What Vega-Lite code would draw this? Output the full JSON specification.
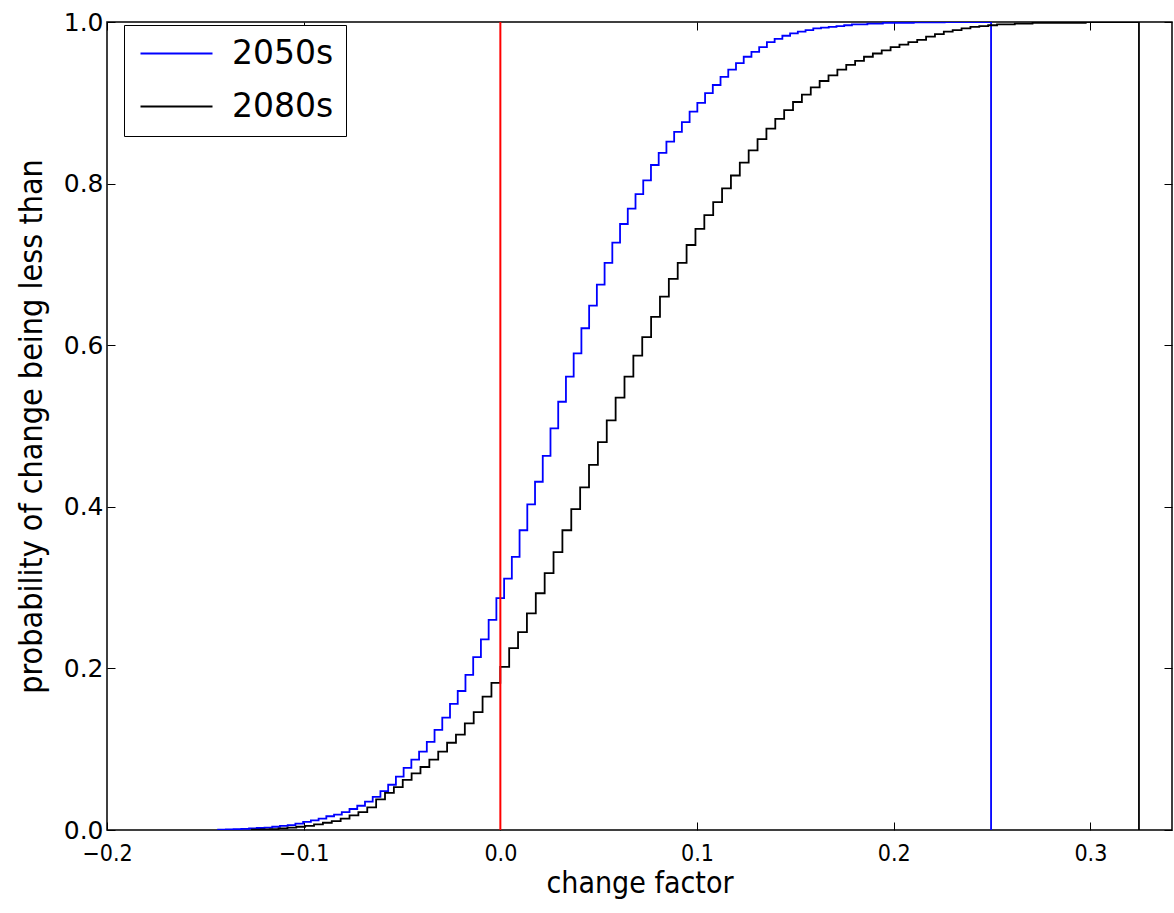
{
  "$schema": "https://vega.github.io/schema/vega-lite/v6.json",
  "width": 1065,
  "height": 808,
  "autosize": {"type": "none"},
  "padding": {"left": 107, "top": 22, "right": 2, "bottom": 83},
  "background": "white",
  "config": {
    "view": {"stroke": "black", "strokeWidth": 1.5},
    "axis": {"grid": false, "domain": false, "tickColor": "black", "tickWidth": 1, "labelColor": "black", "titleColor": "black", "titleFontWeight": "normal"}
  },
  "layer": [
    {
      "data": {"values": [
        {"s":"2050s","o":0,"x":-0.1435,"p":0},
        {"s":"2050s","o":1,"x":-0.1435,"p":0.0003},
        {"s":"2050s","o":2,"x":-0.13957,"p":0.0006},
        {"s":"2050s","o":3,"x":-0.13564,"p":0.001},
        {"s":"2050s","o":4,"x":-0.13171,"p":0.0015},
        {"s":"2050s","o":5,"x":-0.12778,"p":0.002},
        {"s":"2050s","o":6,"x":-0.12385,"p":0.0025},
        {"s":"2050s","o":7,"x":-0.11992,"p":0.003},
        {"s":"2050s","o":8,"x":-0.11599,"p":0.004},
        {"s":"2050s","o":9,"x":-0.11206,"p":0.005},
        {"s":"2050s","o":10,"x":-0.10813,"p":0.006},
        {"s":"2050s","o":11,"x":-0.1042,"p":0.008},
        {"s":"2050s","o":12,"x":-0.10027,"p":0.010},
        {"s":"2050s","o":13,"x":-0.09634,"p":0.012},
        {"s":"2050s","o":14,"x":-0.09241,"p":0.014},
        {"s":"2050s","o":15,"x":-0.08848,"p":0.017},
        {"s":"2050s","o":16,"x":-0.08455,"p":0.019},
        {"s":"2050s","o":17,"x":-0.08062,"p":0.022},
        {"s":"2050s","o":18,"x":-0.07669,"p":0.026},
        {"s":"2050s","o":19,"x":-0.07276,"p":0.030},
        {"s":"2050s","o":20,"x":-0.06883,"p":0.035},
        {"s":"2050s","o":21,"x":-0.0649,"p":0.041},
        {"s":"2050s","o":22,"x":-0.06097,"p":0.048},
        {"s":"2050s","o":23,"x":-0.05704,"p":0.056},
        {"s":"2050s","o":24,"x":-0.05311,"p":0.066},
        {"s":"2050s","o":25,"x":-0.04918,"p":0.077},
        {"s":"2050s","o":26,"x":-0.04525,"p":0.087},
        {"s":"2050s","o":27,"x":-0.04132,"p":0.097},
        {"s":"2050s","o":28,"x":-0.03739,"p":0.109},
        {"s":"2050s","o":29,"x":-0.03346,"p":0.124},
        {"s":"2050s","o":30,"x":-0.02953,"p":0.139},
        {"s":"2050s","o":31,"x":-0.0256,"p":0.156},
        {"s":"2050s","o":32,"x":-0.02167,"p":0.172},
        {"s":"2050s","o":33,"x":-0.01774,"p":0.192},
        {"s":"2050s","o":34,"x":-0.01381,"p":0.214},
        {"s":"2050s","o":35,"x":-0.00988,"p":0.236},
        {"s":"2050s","o":36,"x":-0.00595,"p":0.260},
        {"s":"2050s","o":37,"x":-0.00202,"p":0.287},
        {"s":"2050s","o":38,"x":0.00191,"p":0.311},
        {"s":"2050s","o":39,"x":0.00584,"p":0.338},
        {"s":"2050s","o":40,"x":0.00977,"p":0.371},
        {"s":"2050s","o":41,"x":0.0137,"p":0.403},
        {"s":"2050s","o":42,"x":0.01763,"p":0.431},
        {"s":"2050s","o":43,"x":0.02156,"p":0.463},
        {"s":"2050s","o":44,"x":0.02549,"p":0.497},
        {"s":"2050s","o":45,"x":0.02942,"p":0.530},
        {"s":"2050s","o":46,"x":0.03335,"p":0.561},
        {"s":"2050s","o":47,"x":0.03728,"p":0.590},
        {"s":"2050s","o":48,"x":0.04121,"p":0.621},
        {"s":"2050s","o":49,"x":0.04514,"p":0.649},
        {"s":"2050s","o":50,"x":0.04907,"p":0.675},
        {"s":"2050s","o":51,"x":0.053,"p":0.702},
        {"s":"2050s","o":52,"x":0.05693,"p":0.727},
        {"s":"2050s","o":53,"x":0.06086,"p":0.750},
        {"s":"2050s","o":54,"x":0.06479,"p":0.769},
        {"s":"2050s","o":55,"x":0.06872,"p":0.787},
        {"s":"2050s","o":56,"x":0.07265,"p":0.804},
        {"s":"2050s","o":57,"x":0.07658,"p":0.823},
        {"s":"2050s","o":58,"x":0.08051,"p":0.838},
        {"s":"2050s","o":59,"x":0.08444,"p":0.852},
        {"s":"2050s","o":60,"x":0.08837,"p":0.864},
        {"s":"2050s","o":61,"x":0.0923,"p":0.876},
        {"s":"2050s","o":62,"x":0.09623,"p":0.889},
        {"s":"2050s","o":63,"x":0.10016,"p":0.900},
        {"s":"2050s","o":64,"x":0.10409,"p":0.912},
        {"s":"2050s","o":65,"x":0.10802,"p":0.922},
        {"s":"2050s","o":66,"x":0.11195,"p":0.932},
        {"s":"2050s","o":67,"x":0.11588,"p":0.941},
        {"s":"2050s","o":68,"x":0.11981,"p":0.949},
        {"s":"2050s","o":69,"x":0.12374,"p":0.957},
        {"s":"2050s","o":70,"x":0.12767,"p":0.963},
        {"s":"2050s","o":71,"x":0.1316,"p":0.969},
        {"s":"2050s","o":72,"x":0.13553,"p":0.975},
        {"s":"2050s","o":73,"x":0.13946,"p":0.979},
        {"s":"2050s","o":74,"x":0.14339,"p":0.983},
        {"s":"2050s","o":75,"x":0.14732,"p":0.986},
        {"s":"2050s","o":76,"x":0.15125,"p":0.988},
        {"s":"2050s","o":77,"x":0.15518,"p":0.990},
        {"s":"2050s","o":78,"x":0.15911,"p":0.992},
        {"s":"2050s","o":79,"x":0.16304,"p":0.993},
        {"s":"2050s","o":80,"x":0.16697,"p":0.994},
        {"s":"2050s","o":81,"x":0.1709,"p":0.995},
        {"s":"2050s","o":82,"x":0.17483,"p":0.996},
        {"s":"2050s","o":83,"x":0.17876,"p":0.997},
        {"s":"2050s","o":84,"x":0.18269,"p":0.997},
        {"s":"2050s","o":85,"x":0.18662,"p":0.998},
        {"s":"2050s","o":86,"x":0.19055,"p":0.998},
        {"s":"2050s","o":87,"x":0.19448,"p":0.999},
        {"s":"2050s","o":88,"x":0.19841,"p":0.999},
        {"s":"2050s","o":89,"x":0.20234,"p":0.999},
        {"s":"2050s","o":90,"x":0.20627,"p":0.999},
        {"s":"2050s","o":91,"x":0.2102,"p":0.9995},
        {"s":"2050s","o":92,"x":0.21413,"p":0.9995},
        {"s":"2050s","o":93,"x":0.21806,"p":0.9995},
        {"s":"2050s","o":94,"x":0.22199,"p":0.9995},
        {"s":"2050s","o":95,"x":0.22592,"p":1.0},
        {"s":"2050s","o":96,"x":0.22985,"p":1.0},
        {"s":"2050s","o":97,"x":0.23378,"p":1.0},
        {"s":"2050s","o":98,"x":0.23771,"p":1.0},
        {"s":"2050s","o":99,"x":0.24164,"p":1.0},
        {"s":"2050s","o":100,"x":0.24557,"p":1.0},
        {"s":"2050s","o":101,"x":0.2495,"p":1.0},
        {"s":"2050s","o":102,"x":0.2495,"p":0},
        {"s":"2080s","o":0,"x":-0.1263,"p":0},
        {"s":"2080s","o":1,"x":-0.1263,"p":0.0003},
        {"s":"2080s","o":2,"x":-0.12179,"p":0.0006},
        {"s":"2080s","o":3,"x":-0.11728,"p":0.001},
        {"s":"2080s","o":4,"x":-0.11277,"p":0.002},
        {"s":"2080s","o":5,"x":-0.10826,"p":0.003},
        {"s":"2080s","o":6,"x":-0.10375,"p":0.004},
        {"s":"2080s","o":7,"x":-0.09924,"p":0.005},
        {"s":"2080s","o":8,"x":-0.09473,"p":0.007},
        {"s":"2080s","o":9,"x":-0.09022,"p":0.009},
        {"s":"2080s","o":10,"x":-0.08571,"p":0.011},
        {"s":"2080s","o":11,"x":-0.0812,"p":0.014},
        {"s":"2080s","o":12,"x":-0.07669,"p":0.018},
        {"s":"2080s","o":13,"x":-0.07218,"p":0.022},
        {"s":"2080s","o":14,"x":-0.06767,"p":0.028},
        {"s":"2080s","o":15,"x":-0.06316,"p":0.038},
        {"s":"2080s","o":16,"x":-0.05865,"p":0.046},
        {"s":"2080s","o":17,"x":-0.05414,"p":0.053},
        {"s":"2080s","o":18,"x":-0.04963,"p":0.062},
        {"s":"2080s","o":19,"x":-0.04512,"p":0.070},
        {"s":"2080s","o":20,"x":-0.04061,"p":0.078},
        {"s":"2080s","o":21,"x":-0.0361,"p":0.087},
        {"s":"2080s","o":22,"x":-0.03159,"p":0.097},
        {"s":"2080s","o":23,"x":-0.02708,"p":0.108},
        {"s":"2080s","o":24,"x":-0.02257,"p":0.118},
        {"s":"2080s","o":25,"x":-0.01806,"p":0.132},
        {"s":"2080s","o":26,"x":-0.01355,"p":0.146},
        {"s":"2080s","o":27,"x":-0.00904,"p":0.165},
        {"s":"2080s","o":28,"x":-0.00453,"p":0.182},
        {"s":"2080s","o":29,"x":-0.00002,"p":0.202},
        {"s":"2080s","o":30,"x":0.00449,"p":0.225},
        {"s":"2080s","o":31,"x":0.009,"p":0.245},
        {"s":"2080s","o":32,"x":0.01351,"p":0.268},
        {"s":"2080s","o":33,"x":0.01802,"p":0.293},
        {"s":"2080s","o":34,"x":0.02253,"p":0.318},
        {"s":"2080s","o":35,"x":0.02704,"p":0.344},
        {"s":"2080s","o":36,"x":0.03155,"p":0.371},
        {"s":"2080s","o":37,"x":0.03606,"p":0.397},
        {"s":"2080s","o":38,"x":0.04057,"p":0.424},
        {"s":"2080s","o":39,"x":0.04508,"p":0.452},
        {"s":"2080s","o":40,"x":0.04959,"p":0.480},
        {"s":"2080s","o":41,"x":0.0541,"p":0.507},
        {"s":"2080s","o":42,"x":0.05861,"p":0.535},
        {"s":"2080s","o":43,"x":0.06312,"p":0.561},
        {"s":"2080s","o":44,"x":0.06763,"p":0.587},
        {"s":"2080s","o":45,"x":0.07214,"p":0.610},
        {"s":"2080s","o":46,"x":0.07665,"p":0.635},
        {"s":"2080s","o":47,"x":0.08116,"p":0.660},
        {"s":"2080s","o":48,"x":0.08567,"p":0.682},
        {"s":"2080s","o":49,"x":0.09018,"p":0.702},
        {"s":"2080s","o":50,"x":0.09469,"p":0.724},
        {"s":"2080s","o":51,"x":0.0992,"p":0.744},
        {"s":"2080s","o":52,"x":0.10371,"p":0.761},
        {"s":"2080s","o":53,"x":0.10822,"p":0.777},
        {"s":"2080s","o":54,"x":0.11273,"p":0.794},
        {"s":"2080s","o":55,"x":0.11724,"p":0.810},
        {"s":"2080s","o":56,"x":0.12175,"p":0.826},
        {"s":"2080s","o":57,"x":0.12626,"p":0.841},
        {"s":"2080s","o":58,"x":0.13077,"p":0.855},
        {"s":"2080s","o":59,"x":0.13528,"p":0.868},
        {"s":"2080s","o":60,"x":0.13979,"p":0.880},
        {"s":"2080s","o":61,"x":0.1443,"p":0.891},
        {"s":"2080s","o":62,"x":0.14881,"p":0.901},
        {"s":"2080s","o":63,"x":0.15332,"p":0.910},
        {"s":"2080s","o":64,"x":0.15783,"p":0.919},
        {"s":"2080s","o":65,"x":0.16234,"p":0.927},
        {"s":"2080s","o":66,"x":0.16685,"p":0.934},
        {"s":"2080s","o":67,"x":0.17136,"p":0.941},
        {"s":"2080s","o":68,"x":0.17587,"p":0.947},
        {"s":"2080s","o":69,"x":0.18038,"p":0.952},
        {"s":"2080s","o":70,"x":0.18489,"p":0.957},
        {"s":"2080s","o":71,"x":0.1894,"p":0.961},
        {"s":"2080s","o":72,"x":0.19391,"p":0.965},
        {"s":"2080s","o":73,"x":0.19842,"p":0.969},
        {"s":"2080s","o":74,"x":0.20293,"p":0.972},
        {"s":"2080s","o":75,"x":0.20744,"p":0.975},
        {"s":"2080s","o":76,"x":0.21195,"p":0.978},
        {"s":"2080s","o":77,"x":0.21646,"p":0.982},
        {"s":"2080s","o":78,"x":0.22097,"p":0.985},
        {"s":"2080s","o":79,"x":0.22548,"p":0.988},
        {"s":"2080s","o":80,"x":0.22999,"p":0.990},
        {"s":"2080s","o":81,"x":0.2345,"p":0.992},
        {"s":"2080s","o":82,"x":0.23901,"p":0.994},
        {"s":"2080s","o":83,"x":0.24352,"p":0.995},
        {"s":"2080s","o":84,"x":0.24803,"p":0.996},
        {"s":"2080s","o":85,"x":0.25254,"p":0.997},
        {"s":"2080s","o":86,"x":0.25705,"p":0.997},
        {"s":"2080s","o":87,"x":0.26156,"p":0.998},
        {"s":"2080s","o":88,"x":0.26607,"p":0.998},
        {"s":"2080s","o":89,"x":0.27058,"p":0.999},
        {"s":"2080s","o":90,"x":0.27509,"p":0.999},
        {"s":"2080s","o":91,"x":0.2796,"p":0.999},
        {"s":"2080s","o":92,"x":0.28411,"p":0.999},
        {"s":"2080s","o":93,"x":0.28862,"p":0.999},
        {"s":"2080s","o":94,"x":0.29313,"p":0.999},
        {"s":"2080s","o":95,"x":0.29764,"p":1.0},
        {"s":"2080s","o":96,"x":0.30215,"p":1.0},
        {"s":"2080s","o":97,"x":0.30666,"p":1.0},
        {"s":"2080s","o":98,"x":0.31117,"p":1.0},
        {"s":"2080s","o":99,"x":0.31568,"p":1.0},
        {"s":"2080s","o":100,"x":0.32019,"p":1.0},
        {"s":"2080s","o":101,"x":0.3247,"p":1.0},
        {"s":"2080s","o":102,"x":0.3247,"p":0}
      ]},
      "mark": {"type": "line", "interpolate": "step-after", "strokeWidth": 1.8, "clip": true},
      "encoding": {
        "x": {"field": "x", "type": "quantitative",
          "scale": {"domain": [-0.2, 0.3415], "nice": false, "zero": false},
          "axis": {"orient": "bottom", "values": [-0.2, -0.1, 0, 0.1, 0.2, 0.3], "format": ".1f", "tickSize": -8, "labelPadding": 20, "labelFlush": false, "labelFont": "DejaVu Sans Condensed, DejaVu Sans", "labelFontSize": 23, "title": "change factor", "titleFont": "DejaVu Sans Condensed, DejaVu Sans", "titleFontSize": 30, "titlePadding": 3}},
        "y": {"field": "p", "type": "quantitative",
          "scale": {"domain": [0, 1], "nice": false},
          "axis": {"orient": "left", "values": [0, 0.2, 0.4, 0.6, 0.8, 1.0], "format": ".1f", "tickSize": -8, "labelPadding": 12, "labelFlush": false, "labelFont": "DejaVu Sans", "labelFontSize": 25, "title": "probability of change being less than", "titleFont": "DejaVu Sans Condensed, DejaVu Sans", "titleFontSize": 32, "titlePadding": 15}},
        "order": {"field": "o", "type": "quantitative"},
        "color": {"field": "s", "type": "nominal",
          "scale": {"domain": ["2050s", "2080s"], "range": ["#0000ff", "#000000"]},
          "legend": {"title": null, "orient": "none", "legendX": 17, "legendY": 3, "direction": "vertical",
            "strokeColor": "black", "fillColor": "white", "padding": 12, "cornerRadius": 0,
            "symbolType": "M-1,0H5", "symbolSize": 576, "symbolStrokeWidth": 1.8, "symbolFillColor": "transparent",
            "labelFont": "DejaVu Sans", "labelFontSize": 33, "labelOffset": 63, "rowPadding": 19, "labelColor": "black"}}
      }
    },
    {
      "data": {"values": [{"x": 0, "lo": 0, "hi": 1}]},
      "mark": {"type": "rule", "color": "#ff0000", "strokeWidth": 2},
      "encoding": {
        "x": {"field": "x", "type": "quantitative",
          "axis": {"orient": "top", "values": [-0.2, -0.1, 0, 0.1, 0.2, 0.3], "labels": false, "title": null, "tickSize": -8}},
        "y": {"field": "lo", "type": "quantitative",
          "axis": {"orient": "right", "values": [0, 0.2, 0.4, 0.6, 0.8, 1.0], "labels": false, "title": null, "tickSize": -8}},
        "y2": {"field": "hi"}
      }
    }
  ],
  "resolve": {"axis": {"x": "independent", "y": "independent"}}
}
